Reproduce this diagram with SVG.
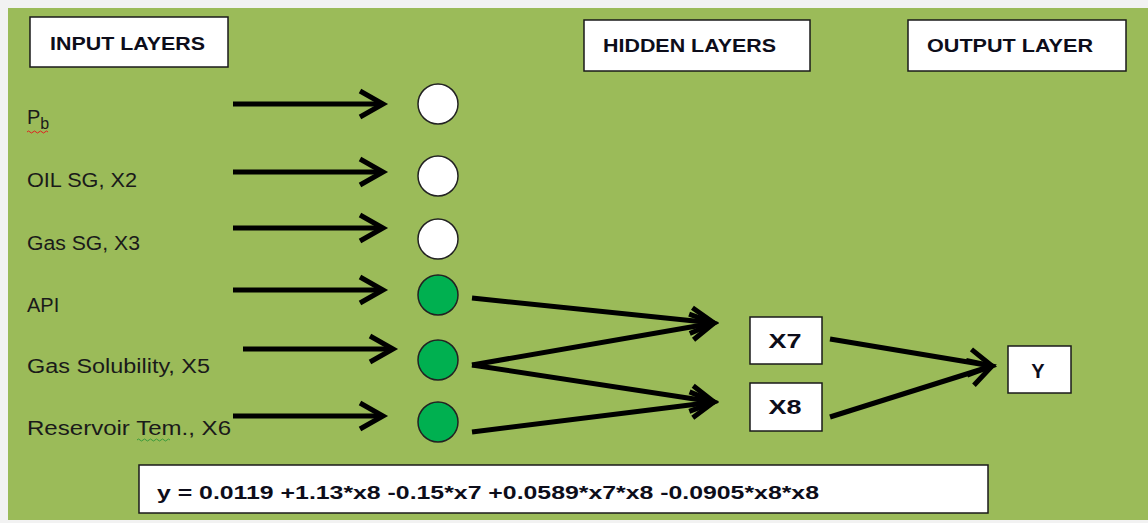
<svg xmlns="http://www.w3.org/2000/svg" width="1148" height="523" viewBox="0 0 1148 523">
<style>
.box{fill:#fff;stroke:#1a1a1a;stroke-width:1.5}
.hdr{font-family:"Liberation Sans",Arial,sans-serif;font-weight:bold;font-size:19px;fill:#0d0d1a}
.lbl{font-family:"Liberation Sans",Arial,sans-serif;font-size:20px;fill:#1a1a1a}
.nd{font-family:"Liberation Sans",Arial,sans-serif;font-weight:bold;font-size:20px;fill:#0d0d1a;text-anchor:middle}
.wc{fill:#fff;stroke:#222;stroke-width:1.5}
.gc{fill:#00b050;stroke:#222;stroke-width:1.5}
.arr{stroke:#000;stroke-width:5;fill:none;marker-end:url(#ah)}
</style>
<defs>
<marker id="ah" markerUnits="userSpaceOnUse" markerWidth="40" markerHeight="40" viewBox="-30 -20 40 40" refX="0" refY="0" orient="auto" overflow="visible">
<path d="M-23,-13 L0,0 L-23,13" fill="none" stroke="#000" stroke-width="5" stroke-linejoin="miter"/>
</marker>
</defs>
<rect x="0" y="0" width="1148" height="523" fill="#f2f2f2"/>
<rect x="8" y="8" width="1140" height="512" fill="#9bbb59"/>
<g id="header-input"><rect class="box" x="30" y="17" width="198" height="50"/><text class="hdr" x="50" y="50" textLength="155" lengthAdjust="spacingAndGlyphs">INPUT LAYERS</text></g>
<g id="header-hidden"><rect class="box" x="584" y="20" width="226" height="51"/><text class="hdr" x="603" y="52" textLength="173" lengthAdjust="spacingAndGlyphs">HIDDEN LAYERS</text></g>
<g id="header-output"><rect class="box" x="908" y="20" width="218" height="51"/><text class="hdr" x="927" y="52" textLength="166" lengthAdjust="spacingAndGlyphs">OUTPUT LAYER</text></g>
<g id="label-pb"><text class="lbl" x="27" y="124">P<tspan font-size="16" dy="5">b</tspan></text><path d="M27,132 q1.5,-2 3,0 t3,0 t3,0 t3,0 t3,0 t3,0 t3,0" fill="none" stroke="#e02020" stroke-width="1"/></g>
<g id="label-x2"><text class="lbl" x="27" y="187" textLength="110" lengthAdjust="spacingAndGlyphs">OIL SG, X2</text></g>
<g id="label-x3"><text class="lbl" x="27" y="250" textLength="113" lengthAdjust="spacingAndGlyphs">Gas SG, X3</text></g>
<g id="label-api"><text class="lbl" x="27" y="312">API</text></g>
<g id="label-x5"><text class="lbl" x="27" y="373" textLength="183" lengthAdjust="spacingAndGlyphs">Gas Solubility, X5</text></g>
<g id="label-x6"><text class="lbl" x="27" y="435" textLength="204" lengthAdjust="spacingAndGlyphs">Reservoir Tem., X6</text><path d="M137,440 q1.5,-2 3,0 t3,0 t3,0 t3,0 t3,0 t3,0 t3,0 t3,0 t3,0 t3,0 t3,0" fill="none" stroke="#3a9a3a" stroke-width="1"/></g>
<g id="node-in1"><circle class="wc" cx="438" cy="104" r="20"/></g>
<g id="node-in2"><circle class="wc" cx="438" cy="176" r="20"/></g>
<g id="node-in3"><circle class="wc" cx="438" cy="239" r="20"/></g>
<g id="node-in4"><circle class="gc" cx="438" cy="295" r="20"/></g>
<g id="node-in5"><circle class="gc" cx="438" cy="360" r="20"/></g>
<g id="node-in6"><circle class="gc" cx="438" cy="422" r="20"/></g>
<g id="node-x7"><rect class="box" x="750" y="317" width="72" height="47"/><text class="nd" x="785" y="348" textLength="33" lengthAdjust="spacingAndGlyphs">X7</text></g>
<g id="node-x8"><rect class="box" x="750" y="383" width="72" height="48"/><text class="nd" x="785" y="414" textLength="33" lengthAdjust="spacingAndGlyphs">X8</text></g>
<g id="node-y"><rect class="box" x="1008" y="346" width="63" height="47"/><text class="nd" x="1038" y="378">Y</text></g>
<g id="equation"><rect class="box" x="139" y="465" width="849" height="48"/><text class="hdr" x="157" y="499" font-size="21" textLength="662" lengthAdjust="spacingAndGlyphs">y = 0.0119  +1.13*x8 -0.15*x7 +0.0589*x7*x8 -0.0905*x8*x8</text></g>
<g id="connectors">
<line class="arr" x1="233" y1="104" x2="383" y2="104"/>
<line class="arr" x1="233" y1="172" x2="383" y2="172"/>
<line class="arr" x1="233" y1="228" x2="383" y2="228"/>
<line class="arr" x1="233" y1="290" x2="383" y2="290"/>
<line class="arr" x1="243" y1="349" x2="393" y2="349"/>
<line class="arr" x1="233" y1="416" x2="383" y2="416"/>
<line class="arr" x1="472" y1="298" x2="714" y2="323"/>
<line class="arr" x1="472" y1="365" x2="714" y2="323"/>
<line class="arr" x1="472" y1="365" x2="714" y2="402"/>
<line class="arr" x1="472" y1="432" x2="714" y2="402"/>
<line class="arr" x1="830" y1="339" x2="992" y2="366"/>
<line class="arr" x1="830" y1="417" x2="992" y2="366"/>
</g>
</svg>
